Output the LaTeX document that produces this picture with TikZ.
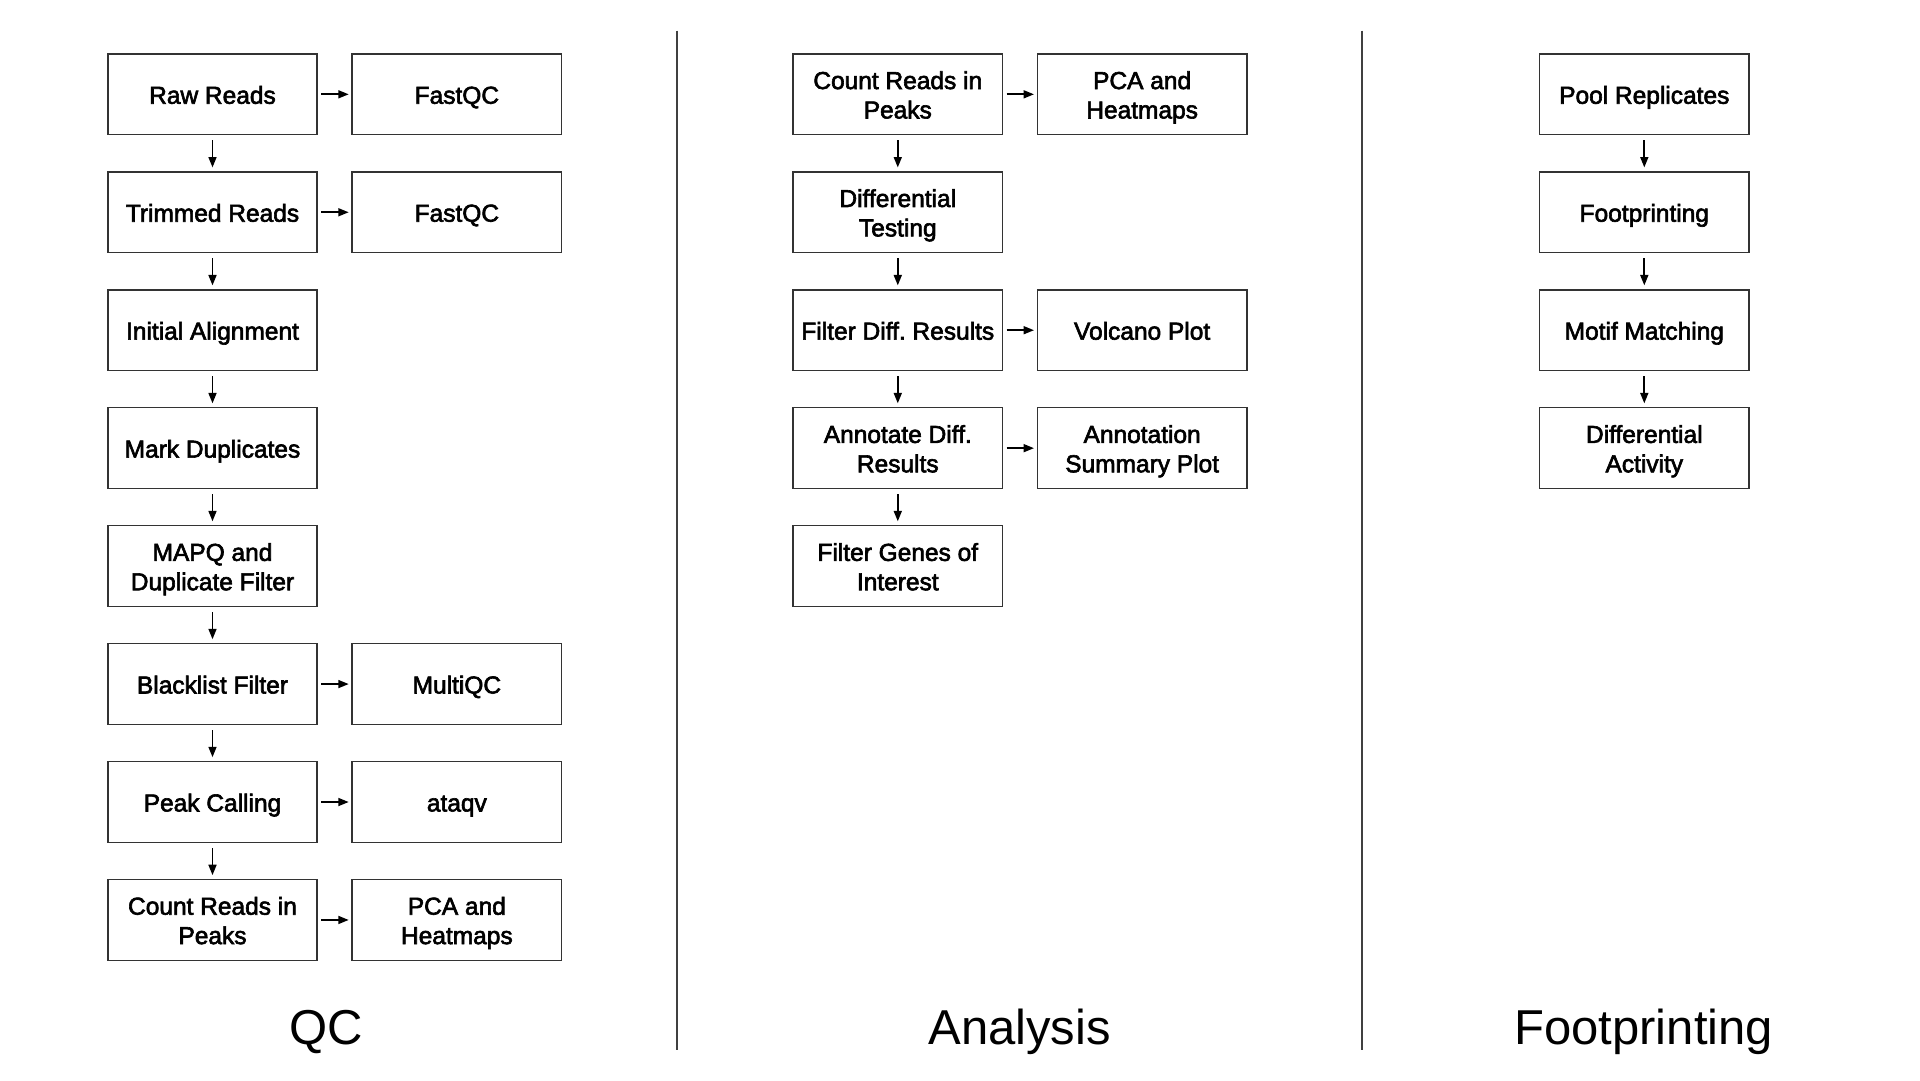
\documentclass[tikz,border=0pt]{standalone}
\usepackage{fontspec}
\usetikzlibrary{arrows.meta}
\newfontfamily\boxfont[FakeBold=2.5]{Liberation Sans}
\newfontfamily\titlefont{Liberation Sans}
\frenchspacing
\begin{document}
\begin{tikzpicture}[x=1pt,y=-1pt,
  stepbox/.style={draw=black!80,line width=1.2pt,rectangle,minimum width=171pt,minimum height=66pt,
    inner sep=0pt,align=center,font=\boxfont\fontsize{20}{24}\selectfont,
    text height=20.4pt,text depth=5pt},
  twoline/.style={stepbox,text height=44.4pt},
  flow/.style={line width=1.4pt,-{Triangle[length=8.5pt,width=6.5pt]}},
  hflow/.style={flow,shorten <=2.7pt,shorten >=2.2pt},
  vflow/.style={flow,shorten <=4pt,shorten >=3pt},
  sep/.style={draw=black!75,line width=1.8pt},
  title/.style={font=\titlefont\fontsize{40}{48}\selectfont,anchor=base}]
\useasboundingbox (0,0) rectangle (1567.6,881.8);
\fill[white] (0,0) rectangle (1567.6,881.8);
% QC column
\node[stepbox] (q1) at (173.5,77) {Raw Reads};
\node[stepbox] (q1r) at (373,77) {FastQC};
\node[stepbox] (q2) at (173.5,173.3) {Trimmed Reads};
\node[stepbox] (q2r) at (373,173.3) {FastQC};
\node[stepbox] (q3) at (173.5,269.6) {Initial Alignment};
\node[stepbox] (q4) at (173.5,365.9) {Mark Duplicates};
\node[twoline] (q5) at (173.5,462.2) {MAPQ and\\Duplicate Filter};
\node[stepbox] (q6) at (173.5,558.5) {Blacklist Filter};
\node[stepbox] (q6r) at (373,558.5) {MultiQC};
\node[stepbox] (q7) at (173.5,654.8) {Peak Calling};
\node[stepbox] (q7r) at (373,654.8) {ataqv};
\node[twoline] (q8) at (173.5,751.1) {Count Reads in\\Peaks};
\node[twoline] (q8r) at (373,751.1) {PCA and\\Heatmaps};
\foreach \a/\b in {q1/q2,q2/q3,q3/q4,q4/q5,q5/q6,q6/q7,q7/q8}
  \draw[vflow] (\a.south) -- (\b.north);
\foreach \a/\b in {q1/q1r,q2/q2r,q6/q6r,q7/q7r,q8/q8r}
  \draw[hflow] (\a.east) -- (\b.west);
% Analysis column
\node[twoline] (a1) at (733,77) {Count Reads in\\Peaks};
\node[twoline] (a1r) at (932.5,77) {PCA and\\Heatmaps};
\node[twoline] (a2) at (733,173.3) {Differential\\Testing};
\node[stepbox] (a3) at (733,269.6) {Filter Diff. Results};
\node[stepbox] (a3r) at (932.5,269.6) {Volcano Plot};
\node[twoline] (a4) at (733,365.9) {Annotate Diff.\\Results};
\node[twoline] (a4r) at (932.5,365.9) {Annotation\\Summary Plot};
\node[twoline] (a5) at (733,462.2) {Filter Genes of\\Interest};
\foreach \a/\b in {a1/a2,a2/a3,a3/a4,a4/a5}
  \draw[vflow] (\a.south) -- (\b.north);
\foreach \a/\b in {a1/a1r,a3/a3r,a4/a4r}
  \draw[hflow] (\a.east) -- (\b.west);
% Footprinting column
\node[stepbox] (f1) at (1342.5,77) {Pool Replicates};
\node[stepbox] (f2) at (1342.5,173.3) {Footprinting};
\node[stepbox] (f3) at (1342.5,269.6) {Motif Matching};
\node[twoline] (f4) at (1342.5,365.9) {Differential\\Activity};
\foreach \a/\b in {f1/f2,f2/f3,f3/f4}
  \draw[vflow] (\a.south) -- (\b.north);
% separators
\coordinate (s1t) at (553,25);
\coordinate (s1b) at (553,857);
\coordinate (s2t) at (1112,25);
\coordinate (s2b) at (1112,857);
\draw[sep] (s1t) -- (s1b);
\draw[sep] (s2t) -- (s2b);
% titles
\node[title] (tqc) at (266,853) {QC};
\node[title] (tan) at (832.5,853) {Analysis};
\node[title] (tfp) at (1342,853) {Footprinting};
\end{tikzpicture}
\end{document}
